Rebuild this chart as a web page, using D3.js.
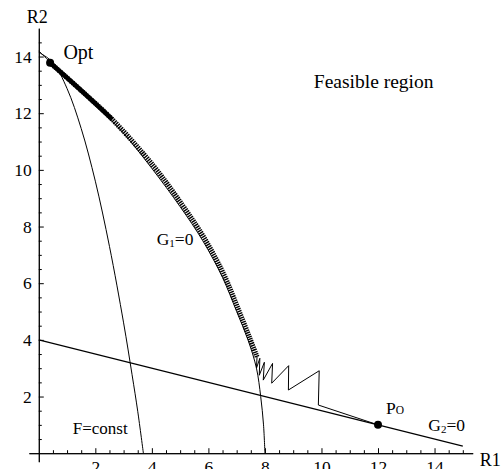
<!DOCTYPE html>
<html><head><meta charset="utf-8">
<script src="https://cdn.jsdelivr.net/npm/d3@7"></script>
<style>
html,body{margin:0;padding:0;background:#fff;}
svg{display:block;}
svg text{font-family:"Liberation Serif","Tinos","Times New Roman","DejaVu Serif",serif;fill:#000;}
</style></head>
<body><svg id="c" width="503" height="469"></svg>
<script>
// ---- data ----
const xTickLabels = [2, 4, 6, 8, 10, 12, 14];
const yTickLabels = [2, 4, 6, 8, 10, 12, 14];
const minorTicksX = [0.5, 1, 1.5, 2.5, 3, 3.5, 4.5, 5, 5.5, 6.5, 7, 7.5, 8.5, 9, 9.5, 10.5, 11, 11.5, 12.5, 13, 13.5, 14.5, 15];
const minorTicksY = [0.5, 1, 1.5, 2.5, 3, 3.5, 4.5, 5, 5.5, 6.5, 7, 7.5, 8.5, 9, 9.5, 10.5, 11, 11.5, 12.5, 13, 13.5, 14.5];
// G2 = 0 constraint line
const g2X = [0, 15];
const g2Y = [4, 0.25];
// G1 = 0 constraint curve
const g1X = [0, 0.4, 1.5, 2.9, 4.0, 5.0, 5.8, 6.5, 7.0, 7.4, 7.7, 7.85, 7.95, 8.0];
const g1Y = [14.2, 13.8, 12.75, 11.4, 10.05, 8.7, 7.5, 6.2, 5.0, 4.0, 3.0, 2.0, 1.0, 0];
// F = const contour
const fX = [0, 0.5, 1.0, 1.5, 2.0, 2.5, 3.0, 3.3, 3.5, 3.7];
const fY = [14.15, 13.79, 12.87, 11.46, 9.6, 7.3, 4.6, 2.77, 1.48, 0];
// search path (dense zigzag along G1 from Opt, then large steps to Po)
const bandX = [0.4, 1.5, 2.6, 4.05, 5.05, 5.85, 6.55, 7.05, 7.45, 7.72];
const bandY = [13.78, 12.8, 11.78, 10.15, 8.8, 7.6, 6.3, 5.1, 4.1, 3.4];
const stepX = [7.72, 7.70, 7.82, 7.80, 7.98, 7.94, 8.27, 8.24, 8.84, 8.83, 9.92, 9.89, 12];
const stepY = [3.4, 3.0, 3.35, 2.75, 3.21, 2.58, 3.17, 2.47, 3.09, 2.23, 2.91, 1.70, 1.0];
// marked points
const pointNames = ["Opt", "Po"];
const pointX = [0.4, 12];
const pointY = [13.78, 1.0];

// ---- layout ----
const FONT = '"Liberation Serif","Tinos","Times New Roman","DejaVu Serif",serif';
const svg = d3.select("#c");
const x = d3.scaleLinear().domain([-0.35, 15.35]).range([28.9, 472.7]);
const y = d3.scaleLinear().domain([-0.3, 15]).range([461.7, 28.2]);
const X0 = x(0), Y0 = y(0);

const zip = (a, b) => a.map((v, i) => [v, b[i]]);
const line = d3.line().x(d => x(d[0])).y(d => y(d[1]));
const curve = d3.line().x(d => x(d[0])).y(d => y(d[1])).curve(d3.curveCatmullRom.alpha(0.5));

// axes
const xAxisMinor = d3.axisBottom(x).tickValues(minorTicksX).tickSize(-3).tickSizeOuter(0).tickFormat("");
const xAxisMajor = d3.axisBottom(x).tickValues(xTickLabels).tickSize(-5).tickSizeOuter(0).tickPadding(7);
const yAxisMinor = d3.axisLeft(y).tickValues(minorTicksY).tickSize(-3).tickSizeOuter(0).tickFormat("");
const yAxisMajor = d3.axisLeft(y).tickValues(yTickLabels).tickSize(-5).tickSizeOuter(0).tickPadding(7);

function styleAxis(g) {
  g.attr("font-family", FONT);
  g.selectAll("path.domain").attr("stroke", "#000").attr("stroke-width", 1);
  g.selectAll("line").attr("stroke", "#000").attr("stroke-width", 1);
  g.selectAll("text").style("font-family", FONT).style("font-size", "17.5px").attr("fill", "#000");
}
svg.append("g").attr("transform", `translate(0,${Y0})`).call(xAxisMinor).call(styleAxis);
svg.append("g").attr("transform", `translate(0,${Y0})`).call(xAxisMajor).call(styleAxis);
svg.append("g").attr("transform", `translate(${X0},0)`).call(yAxisMinor).call(styleAxis);
svg.append("g").attr("transform", `translate(${X0},0)`).call(yAxisMajor).call(styleAxis);

function label(px, py, size) {
  return svg.append("text").attr("x", px).attr("y", py).style("font-family", FONT).style("font-size", size + "px");
}
// axis titles
label(x(15.35) + 7, Y0 + 13, 18).text("R1");
label(X0 - 12, y(15) - 5, 18).text("R2");

// curves
svg.append("path").datum(zip(g2X, g2Y)).attr("d", line).attr("fill", "none").attr("stroke", "#000").attr("stroke-width", 1.1);
svg.append("path").datum(zip(fX, fY)).attr("d", curve).attr("fill", "none").attr("stroke", "#000").attr("stroke-width", 1);
svg.append("path").datum(zip(g1X, g1Y)).attr("d", curve).attr("fill", "none").attr("stroke", "#000").attr("stroke-width", 1);

// search path: dense zigzag band
const band = zip(bandX, bandY);
svg.append("path").datum(band).attr("d", curve).attr("fill", "none").attr("stroke", "#000")
  .attr("stroke-width", 5).attr("stroke-dasharray", "1.4 0.9");
svg.append("path").datum(band.slice(0, 3)).attr("d", curve).attr("fill", "none").attr("stroke", "#000")
  .attr("stroke-width", 4.5);
svg.append("path").datum(zip(stepX, stepY)).attr("d", line).attr("fill", "none").attr("stroke", "#000").attr("stroke-width", 1);

// points
svg.selectAll("circle.pt").data(pointNames).join("circle").attr("class", "pt")
  .attr("cx", (d, i) => x(pointX[i])).attr("cy", (d, i) => y(pointY[i])).attr("r", 4).attr("fill", "#000");

// labels
label(x(0.87), y(13.9), 20).text("Opt");
label(x(9.73), y(12.89), 19.5).text("Feasible region");
const g1t = label(156.7, 245, 17.5);
g1t.append("tspan").text("G");
g1t.append("tspan").attr("dy", 2).style("font-size", "11px").text("1");
g1t.append("tspan").attr("dy", -2).text("=0");
label(x(1.2), y(0.68), 17).text("F=const");
const pot = label(x(12.28), y(1.38), 17.5);
pot.append("tspan").text("P");
pot.append("tspan").style("font-size", "11.5px").text("O");
const g2t = label(x(13.78), y(0.8), 17.5);
g2t.append("tspan").text("G");
g2t.append("tspan").attr("dy", 2).style("font-size", "11px").text("2");
g2t.append("tspan").attr("dy", -2).text("=0");
</script></body></html>
